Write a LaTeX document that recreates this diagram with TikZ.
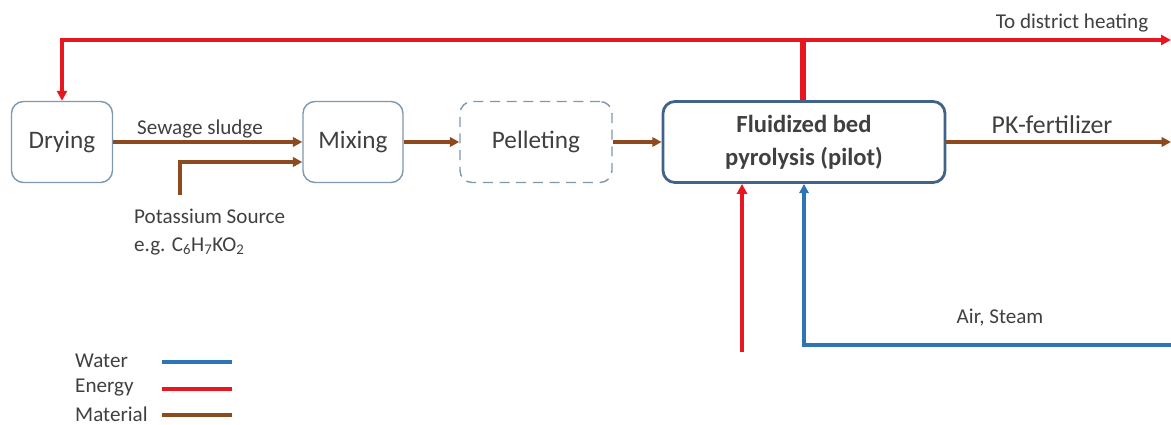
\documentclass[tikz,border=0pt]{standalone}
\usepackage{fontspec}
\setmainfont{Carlito}
\usetikzlibrary{arrows.meta}

\definecolor{energyred}{HTML}{E8161E}
\definecolor{matbrown}{HTML}{8C4A1E}
\definecolor{waterblue}{HTML}{2E75B6}
\definecolor{boxgray}{HTML}{8097B0}
\definecolor{boxdark}{HTML}{41638A}
\definecolor{txt}{HTML}{404040}

\begin{document}
\begin{tikzpicture}[
    x=0.3mm, y=-0.3mm,
    every node/.style={text=txt},
    unit/.style={rectangle, rounded corners=3.6mm, draw=boxgray, line width=1.2pt, minimum height=2.43cm, inner sep=1mm, align=center, font=\fontsize{21.5}{26}\selectfont},
    lbl/.style={inner sep=0pt, font=\fontsize{18}{24.6}\selectfont},
    energy/.style={draw=energyred, line width=2.8pt, -{Triangle[length=3mm, width=3mm]}},
    material/.style={draw=matbrown, line width=2.8pt, -{Triangle[length=2.8mm, width=2.8mm]}},
    water/.style={draw=waterblue, line width=2.8pt, -{Triangle[length=2.8mm, width=2.8mm]}}
]
\useasboundingbox (0,0) rectangle (1171,425);

% Process units
\node[unit, minimum width=3.03cm] (dry) at (62,142) {Drying};
\node[unit, minimum width=3cm] (mix) at (353,142) {Mixing};
\node[unit, minimum width=4.56cm, dashed, dash pattern=on 3mm off 2mm] (pel) at (536,142) {Pelleting};
\node[unit, minimum width=8.46cm, draw=boxdark, line width=2.4pt, font=\fontsize{21}{28}\selectfont\bfseries] (fbp) at (804,142) {Fluidized bed\\pyrolysis (pilot)};

% Free ends
\coordinate (split) at (803,40);
\coordinate (heat) at (1171,40);
\coordinate (pk) at (1171,142);
\coordinate (kin) at (180,195);
\coordinate (ein) at (742,352);
\coordinate (airin) at (1171,345);

% Energy
\draw[energyred, line width=4.4pt] (split |- fbp.north) -- (split);
\draw[energy] (split) -| (dry.north);
\draw[energy] (split) -- (heat);
\draw[energy] (ein) -- (ein |- fbp.south);
\node[lbl] (heattxt) at (1072,23) {To district heating};

% Material
\draw[material] (dry) -- (mix);
\node[lbl] (sludgetxt) at (200,129) {Sewage sludge};
\draw[material] (kin) |- ([yshift=-6mm]mix.west);
\draw[material] (mix) -- (pel);
\draw[material] (pel) -- (fbp);
\draw[material] (fbp) -- (pk);
\node[lbl, font=\fontsize{22}{26}\selectfont] (pktxt) at (1052,125) {PK-fertilizer};

% Water
\draw[water] (airin) -| (fbp.south);
\node[lbl] (airtxt) at (1000,318) {Air, Steam};

% Potassium label
\node[lbl, anchor=west, align=left] (ktxt) at (134,232) {Potassium Source\\e.g. C\textsubscript{6}H\textsubscript{7}KO\textsubscript{2}};

% Legend
\node[lbl, anchor=west] (lw) at (75,361) {Water};
\node[lbl, anchor=west] (le) at (75,388) {Energy};
\node[lbl, anchor=west] (lm) at (75,414) {Material};
\draw[waterblue, line width=2.8pt] (162,362) -- (232,362);
\draw[energyred, line width=2.8pt] (162,389) -- (232,389);
\draw[matbrown, line width=2.8pt] (162,415) -- (232,415);

\end{tikzpicture}
\end{document}
